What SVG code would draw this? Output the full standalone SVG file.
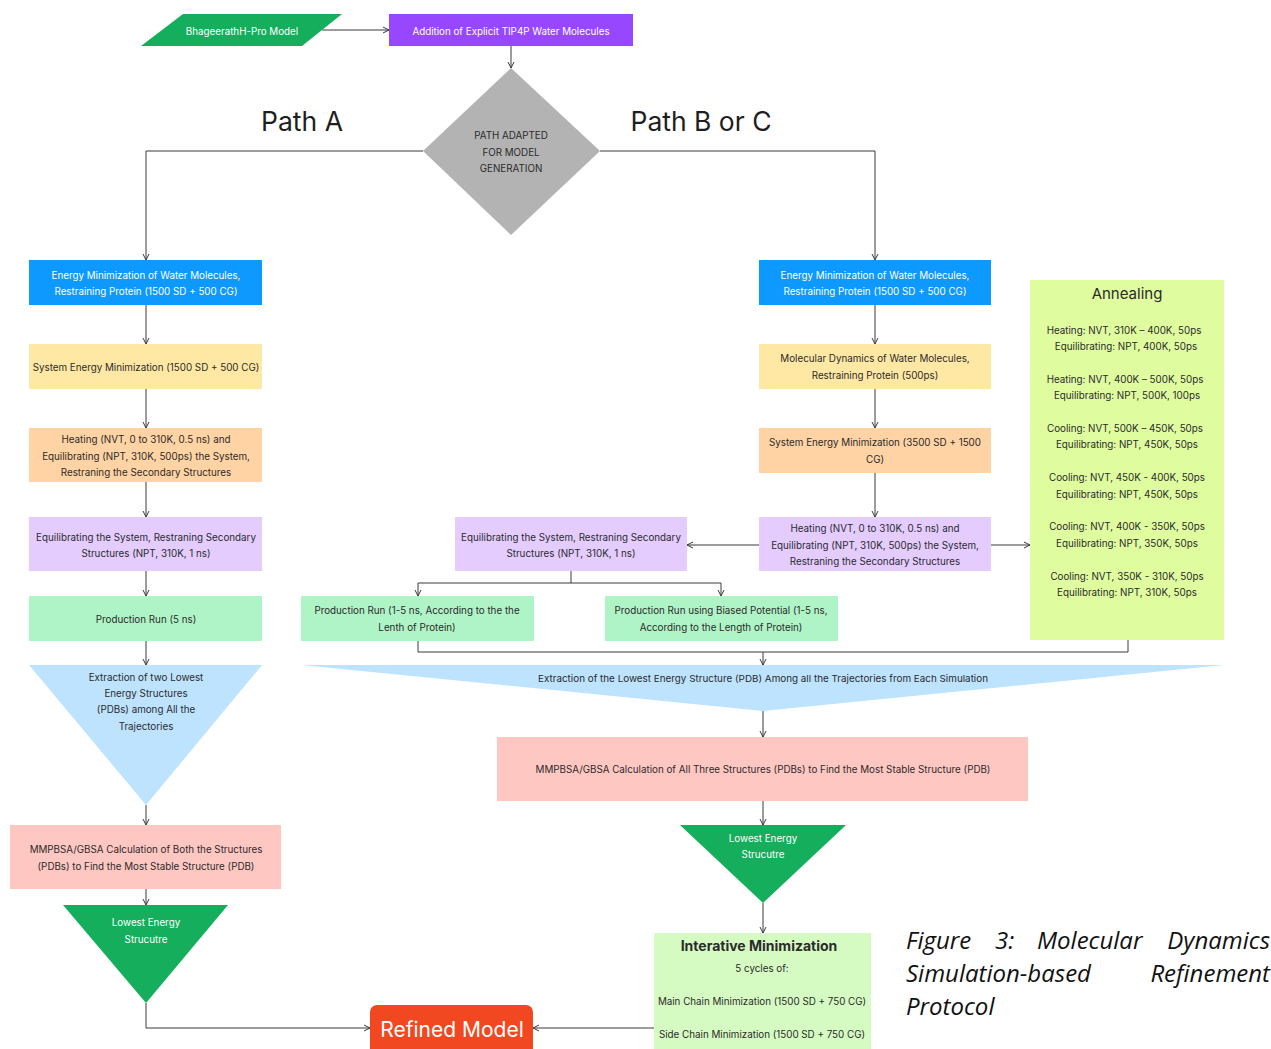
<svg xmlns="http://www.w3.org/2000/svg" width="1271" height="1049" viewBox="0 0 1271 1049">
<defs>
<style>
.t{font-family:Inter,"Liberation Sans",sans-serif;font-size:9.8px;fill:#2b2b2b;text-anchor:middle;dominant-baseline:central}
.w{fill:#ffffff}
.c{fill:none;stroke:#3a3a3a;stroke-width:1}
.h{font-family:Inter,"Liberation Sans",sans-serif;font-size:26.5px;fill:#1e1e1e;text-anchor:middle}
.cap{font-family:"Open Sans","Liberation Sans",sans-serif;font-style:italic;font-size:24px;fill:#111}
</style>
<marker id="a" viewBox="0 0 8 8" refX="7.5" refY="4" markerWidth="8" markerHeight="8" orient="auto" markerUnits="userSpaceOnUse">
<path d="M1.5,1 L7.5,4 L1.5,7" fill="none" stroke="#3a3a3a" stroke-width="1"/>
</marker>
</defs>
<rect width="1271" height="1049" fill="#ffffff"/>

<g id="connectors">
<path class="c" d="M322,30 H389" marker-end="url(#a)"/>
<path class="c" d="M511,46 V68" marker-end="url(#a)"/>
<path class="c" d="M423,151 H146 V260" marker-end="url(#a)"/>
<path class="c" d="M600,151 H875 V260" marker-end="url(#a)"/>
<path class="c" d="M146,305 V344" marker-end="url(#a)"/>
<path class="c" d="M146,389 V428" marker-end="url(#a)"/>
<path class="c" d="M146,482 V517" marker-end="url(#a)"/>
<path class="c" d="M146,571 V596" marker-end="url(#a)"/>
<path class="c" d="M146,641 V665" marker-end="url(#a)"/>
<path class="c" d="M146,805 V825" marker-end="url(#a)"/>
<path class="c" d="M146,889 V905" marker-end="url(#a)"/>
<path class="c" d="M146,1003 V1028 H370" marker-end="url(#a)"/>
<path class="c" d="M875,305 V344" marker-end="url(#a)"/>
<path class="c" d="M875,389 V428" marker-end="url(#a)"/>
<path class="c" d="M875,473 V517" marker-end="url(#a)"/>
<path class="c" d="M759,545 H687" marker-end="url(#a)"/>
<path class="c" d="M991,545 H1030" marker-end="url(#a)"/>
<path class="c" d="M571,571 V583 H418 V596" marker-end="url(#a)"/>
<path class="c" d="M571,583 H721 V596" marker-end="url(#a)"/>
<path class="c" d="M418,641 V652 H1128 V640"/>
<path class="c" d="M763,652 V665" marker-end="url(#a)"/>
<path class="c" d="M763,711 V737" marker-end="url(#a)"/>
<path class="c" d="M763,801 V825" marker-end="url(#a)"/>
<path class="c" d="M763,903 V933" marker-end="url(#a)"/>
<path class="c" d="M654,1028 H533" marker-end="url(#a)"/>
</g>

<g id="start">
<polygon points="183,14 342,14 302,46 141,46" fill="#14AE5C"/>
<text class="t w" x="242" y="31">BhageerathH-Pro Model</text>
</g>
<g id="water">
<rect x="389" y="14" width="244" height="32" fill="#9747FF"/>
<text class="t w" x="511" y="31">Addition of Explicit TIP4P Water Molecules</text>
</g>
<g id="decision">
<polygon points="511,68 600,151 511,235 423,151" fill="#B3B3B3"/>
<text class="t" x="511" y="135">PATH ADAPTED</text>
<text class="t" x="511" y="152">FOR MODEL</text>
<text class="t" x="511" y="168">GENERATION</text>
</g>
<g id="labels">
<text class="h" x="302" y="131">Path A</text>
<text class="h" x="701" y="131">Path B or C</text>
</g>

<g id="a1">
<rect x="29" y="260" width="233" height="45" fill="#0D99FF"/>
<text class="t w" x="146" y="275">Energy Minimization of Water Molecules,</text>
<text class="t w" x="146" y="291">Restraining Protein (1500 SD + 500 CG)</text>
</g>
<g id="a2">
<rect x="29" y="344" width="233" height="45" fill="#FFE8A3"/>
<text class="t" x="146" y="367">System Energy Minimization (1500 SD + 500 CG)</text>
</g>
<g id="a3">
<rect x="29" y="428" width="233" height="54" fill="#FFD3A3"/>
<text class="t" x="146" y="439">Heating (NVT, 0 to 310K, 0.5 ns) and</text>
<text class="t" x="146" y="456">Equilibrating (NPT, 310K, 500ps) the System,</text>
<text class="t" x="146" y="472">Restraning the Secondary Structures</text>
</g>
<g id="a4">
<rect x="29" y="517" width="233" height="54" fill="#E4CCFF"/>
<text class="t" x="146" y="537">Equilibrating the System, Restraning Secondary</text>
<text class="t" x="146" y="553">Structures (NPT, 310K, 1 ns)</text>
</g>
<g id="a5">
<rect x="29" y="596" width="233" height="45" fill="#AFF4C6"/>
<text class="t" x="146" y="619">Production Run (5 ns)</text>
</g>
<g id="a6">
<polygon points="29,665 262,665 146,805" fill="#BDE3FF"/>
<text class="t" x="146" y="677">Extraction of two Lowest</text>
<text class="t" x="146" y="693">Energy Structures</text>
<text class="t" x="146" y="709">(PDBs)  among All the</text>
<text class="t" x="146" y="726">Trajectories</text>
</g>
<g id="a7">
<rect x="10" y="825" width="271" height="64" fill="#FFC7C2"/>
<text class="t" x="146" y="849">MMPBSA/GBSA Calculation of Both the Structures</text>
<text class="t" x="146" y="866">(PDBs) to Find the Most Stable Structure (PDB)</text>
</g>
<g id="a8">
<polygon points="63,905 228,905 146,1003" fill="#14AE5C"/>
<text class="t w" x="146" y="922">Lowest Energy</text>
<text class="t w" x="146" y="939">Strucutre</text>
</g>

<g id="b1">
<rect x="759" y="260" width="232" height="45" fill="#0D99FF"/>
<text class="t w" x="875" y="275">Energy Minimization of Water Molecules,</text>
<text class="t w" x="875" y="291">Restraining Protein (1500 SD + 500 CG)</text>
</g>
<g id="b2">
<rect x="759" y="344" width="232" height="45" fill="#FFE8A3"/>
<text class="t" x="875" y="358">Molecular Dynamics of Water Molecules,</text>
<text class="t" x="875" y="375">Restraining Protein (500ps)</text>
</g>
<g id="b3">
<rect x="759" y="428" width="232" height="45" fill="#FFD3A3"/>
<text class="t" x="875" y="442">System Energy Minimization (3500 SD + 1500</text>
<text class="t" x="875" y="459">CG)</text>
</g>
<g id="b4">
<rect x="759" y="517" width="232" height="54" fill="#E4CCFF"/>
<text class="t" x="875" y="528">Heating (NVT, 0 to 310K, 0.5 ns) and</text>
<text class="t" x="875" y="545">Equilibrating (NPT, 310K, 500ps) the System,</text>
<text class="t" x="875" y="561">Restraning the Secondary Structures</text>
</g>
<g id="b5">
<rect x="455" y="517" width="232" height="54" fill="#E4CCFF"/>
<text class="t" x="571" y="537">Equilibrating the System, Restraning Secondary</text>
<text class="t" x="571" y="553">Structures (NPT, 310K, 1 ns)</text>
</g>
<g id="b6">
<rect x="301" y="596" width="233" height="45" fill="#AFF4C6"/>
<text class="t" x="417" y="610">Production Run (1-5 ns, According to the the</text>
<text class="t" x="417" y="627">Lenth of Protein)</text>
</g>
<g id="b7">
<rect x="605" y="596" width="233" height="45" fill="#AFF4C6"/>
<text class="t" x="721" y="610">Production Run using Biased Potential (1-5 ns,</text>
<text class="t" x="721" y="627">According to the Length of Protein)</text>
</g>
<g id="annealing">
<rect x="1030" y="280" width="194" height="360" fill="#DFFC9F"/>
<text class="t" x="1127" y="293" style="font-size:15px" fill="#1e1e1e">Annealing</text>
<text class="t" x="1124" y="330">Heating: NVT, 310K – 400K, 50ps</text>
<text class="t" x="1126" y="346">Equilibrating: NPT, 400K, 50ps</text>
<text class="t" x="1125" y="379">Heating: NVT, 400K – 500K, 50ps</text>
<text class="t" x="1127" y="395">Equilibrating: NPT, 500K, 100ps</text>
<text class="t" x="1125" y="428">Cooling: NVT, 500K – 450K, 50ps</text>
<text class="t" x="1127" y="444">Equilibrating: NPT, 450K, 50ps</text>
<text class="t" x="1127" y="477">Cooling: NVT, 450K - 400K, 50ps</text>
<text class="t" x="1127" y="494">Equilibrating: NPT, 450K, 50ps</text>
<text class="t" x="1127" y="526">Cooling: NVT, 400K - 350K, 50ps</text>
<text class="t" x="1127" y="543">Equilibrating: NPT, 350K, 50ps</text>
<text class="t" x="1127" y="576">Cooling: NVT, 350K - 310K, 50ps</text>
<text class="t" x="1127" y="592">Equilibrating: NPT, 310K, 50ps</text>
</g>
<g id="extract">
<polygon points="301,665 1224,665 763,711" fill="#BDE3FF"/>
<text class="t" x="763" y="678" style="font-size:9.5px" textLength="450" lengthAdjust="spacingAndGlyphs">Extraction of the Lowest Energy Structure (PDB) Among all the Trajectories from Each Simulation</text>
</g>
<g id="mmpbsa3">
<rect x="497" y="737" width="531" height="64" fill="#FFC7C2"/>
<text class="t" x="763" y="769">MMPBSA/GBSA Calculation of All Three Structures (PDBs) to Find the Most Stable Structure (PDB)</text>
</g>
<g id="lowest2">
<polygon points="680,825 846,825 763,903" fill="#14AE5C"/>
<text class="t w" x="763" y="838">Lowest Energy</text>
<text class="t w" x="763" y="854">Strucutre</text>
</g>
<g id="iterative">
<rect x="654" y="933" width="217" height="116" fill="#D6FBC2"/>
<text class="t" x="759" y="945" style="font-size:14px;font-weight:bold" fill="#1e1e1e">Interative Minimization</text>
<text class="t" x="762" y="968">5 cycles of:</text>
<text class="t" x="762" y="1001">Main Chain Minimization (1500 SD + 750 CG)</text>
<text class="t" x="762" y="1034">Side Chain Minimization (1500 SD + 750 CG)</text>
</g>
<g id="refined">
<rect x="370" y="1005" width="163" height="54" rx="7" fill="#F24822"/>
<text class="t w" x="452" y="1029" style="font-size:21px">Refined Model</text>
</g>
<g id="caption">
<text class="cap" x="906" y="949">Figure</text>
<text class="cap" x="995" y="949">3:</text>
<text class="cap" x="1037" y="949">Molecular</text>
<text class="cap" x="1270" y="949" text-anchor="end">Dynamics</text>
<text class="cap" x="906" y="982">Simulation-based</text>
<text class="cap" x="1270" y="982" text-anchor="end">Refinement</text>
<text class="cap" x="906" y="1015">Protocol</text>
</g>
</svg>
